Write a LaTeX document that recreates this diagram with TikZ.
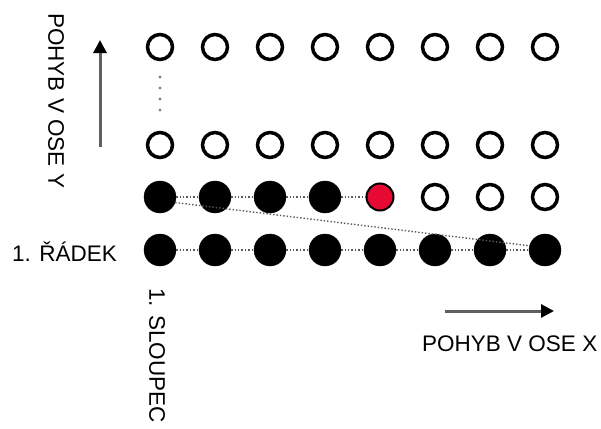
\documentclass[tikz,border=0pt]{standalone}
\usepackage{fontspec}
\setmainfont{Liberation Sans}
\usetikzlibrary{arrows.meta}
\definecolor{pointred}{RGB}{230,10,50}
\tikzset{
  filled/.style={circle,fill=black,draw=black,minimum size=32pt,inner sep=0pt},
  empty/.style={circle,draw=black,line width=3.5pt,minimum size=25pt,inner sep=0pt,fill=white},
  current/.style={circle,fill=pointred,draw=black,line width=2pt,minimum size=27pt,inner sep=0pt},
  path/.style={gray!70!black,dotted,line width=1.4pt},
  axis/.style={gray!75!black,line width=3pt,-{Triangle[length=13pt,width=13pt,color=black]}},
  lab/.style={font=\fontsize{22.5}{26}\selectfont,inner sep=0pt}
}
\begin{document}
\begin{tikzpicture}[x=1pt,y=-1pt]
\useasboundingbox (0,0) rectangle (601,428);
% column positions
\def\cols{{160,215,270,325,380,435,490,545}}
% first row: all visited
\foreach \i in {1,...,8}{
  \pgfmathsetmacro\xx{\cols[\i-1]}
  \node[filled] (a\i) at (\xx,250) {};
}
% second row: four visited, current point, rest pending
\foreach \i in {1,...,4}{
  \pgfmathsetmacro\xx{\cols[\i-1]}
  \node[filled] (b\i) at (\xx,197) {};
}
\node[current] (b5) at (380,197) {};
\foreach \i in {6,7,8}{
  \pgfmathsetmacro\xx{\cols[\i-1]}
  \node[empty] (b\i) at (\xx,197) {};
}
% upper rows pending
\foreach \i in {1,...,8}{
  \pgfmathsetmacro\xx{\cols[\i-1]}
  \node[empty] (c\i) at (\xx,145) {};
  \node[empty] (d\i) at (\xx,47) {};
}
% scanning path
\foreach \i [evaluate=\i as \j using int(\i+1)] in {1,...,7}{
  \draw[path] (a\i) -- (a\j);
}
\foreach \i [evaluate=\i as \j using int(\i+1)] in {1,...,4}{
  \draw[path] (b\i) -- (b\j);
}
\draw[path] (b1.-20) -- (a8.165);
% rows in between
\foreach \y in {77,88,99,110}{
  \fill[gray] (160,\y) circle (1.7pt);
}
% axes
\coordinate (ys) at (100,147);
\coordinate (ye) at (100,40);
\draw[axis] (ys) -- (ye);
\coordinate (xs) at (445,311);
\coordinate (xe) at (554,311);
\draw[axis] (xs) -- (xe);
% labels
\node[lab,rotate=-90,anchor=west] (ly) at (56,13) {POHYB V OSE Y};
\node[lab,anchor=west] (lx) at (422,344) {POHYB V OSE X};
\node[lab,anchor=west] (lr) at (12,252) {1. ŘÁDEK};
\node[lab,rotate=-90,anchor=west] (ls) at (157,288) {1. SLOUPEC};
\end{tikzpicture}
\end{document}
